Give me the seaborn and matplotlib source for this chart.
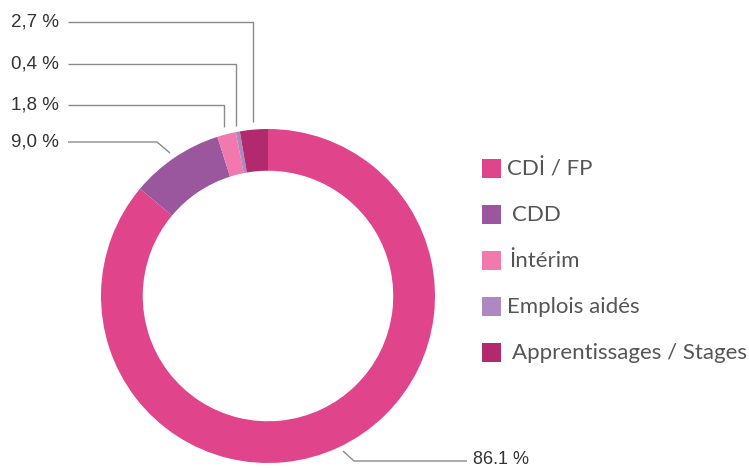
import matplotlib
matplotlib.use("Agg")
import matplotlib.pyplot as plt
import seaborn as sns
from matplotlib.patches import Rectangle

categories = ["CDİ / FP", "CDD", "İntérim", "Emplois aidés", "Apprentissages / Stages"]
values = [86.1, 9.0, 1.8, 0.4, 2.7]
value_labels = ["86.1 %", "9,0 %", "1,8 %", "0,4 %", "2,7 %"]
colors = ["#E0448A", "#9A579E", "#F279AE", "#AE88C0", "#B3296E"]

sns.set_theme(style="white")
plt.rcParams['font.family'] = ['Liberation Sans', 'DejaVu Sans']

W, H = 749, 468
fig = plt.figure(figsize=(W / 100, H / 100), dpi=100)
ax = fig.add_axes([0, 0, 1, 1])

cx, cy, R = 268, H - 296, 167
ax.pie(values, colors=colors, startangle=90, counterclock=False,
       center=(cx, cy), radius=R,
       wedgeprops=dict(width=R * 0.25, edgecolor="none", linewidth=0))
ax.set_xlim(0, W)
ax.set_ylim(0, H)
ax.set_aspect("equal")
ax.axis("off")

def Y(py):
    return H - py

line_kw = dict(color="#8a8a8a", lw=1.0, solid_capstyle="butt")
leaders = {
    "2,7 %": ([68, 253, 253], [22, 22, 122], 22),
    "0,4 %": ([68, 236, 236], [64, 64, 126], 64),
    "1,8 %": ([68, 224, 224], [105, 105, 127], 105),
    "9,0 %": ([68, 157, 170], [142, 142, 153], 142),
}
for lab, (xs, ys, ty) in leaders.items():
    ax.plot(xs, [Y(v) for v in ys], **line_kw)
    ax.text(11, Y(ty), lab, fontsize=13.5, color="#333333", va="center", ha="left")

ax.plot([343, 354, 467], [Y(451), Y(461), Y(461)], **line_kw)
ax.text(473, Y(459.5), value_labels[0], fontsize=13, color="#333333", va="center", ha="left")

leg_y = [168, 214, 260, 306, 352]
text_x = [507, 512, 509, 507, 512]
for cat, col, yy, tx in zip(categories, colors, leg_y, text_x):
    ax.add_patch(Rectangle((482, Y(yy) - 9.5), 19, 19, facecolor=col, edgecolor="none"))
    ax.text(tx, Y(yy) - 1, cat, fontsize=16, color="#555555", va="center", ha="left",
            family=['Lato', 'DejaVu Sans'])

fig.savefig("out.png", dpi=100)
